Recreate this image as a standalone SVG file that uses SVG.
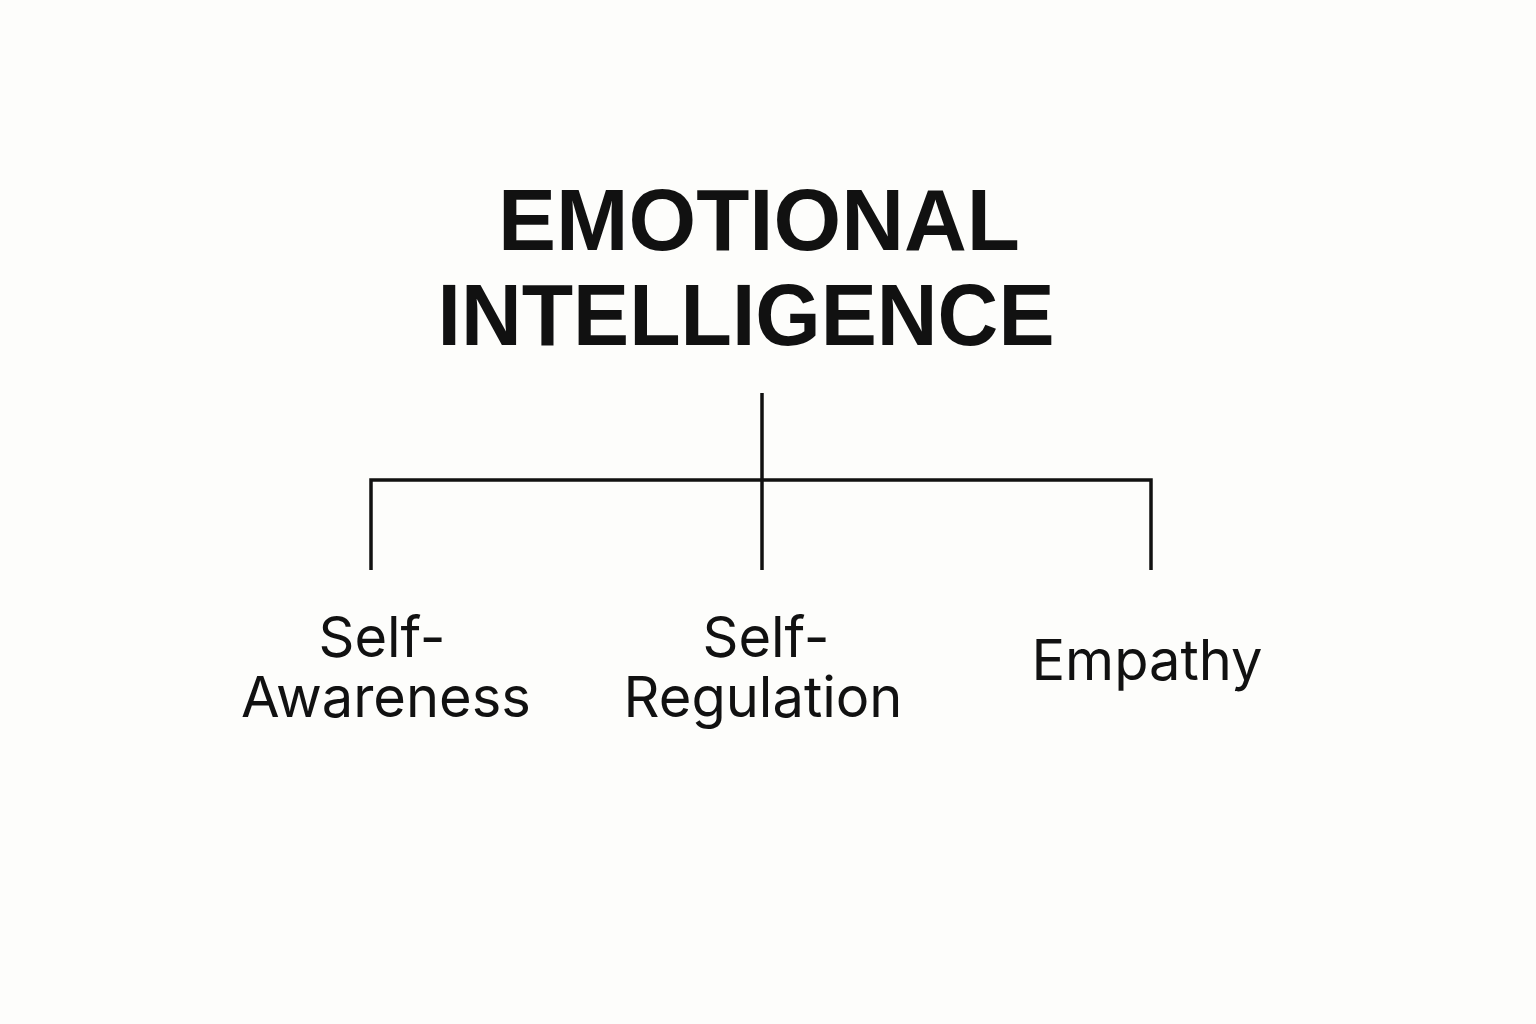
<svg xmlns="http://www.w3.org/2000/svg" width="1536" height="1024" viewBox="0 0 1536 1024">
<style>
.title{font-family:"Liberation Sans",Arial,sans-serif;font-weight:bold;font-size:87px;fill:#111;text-anchor:middle}
.lbl{font-family:Inter,"Noto Sans",sans-serif;font-size:56px;fill:#111;text-anchor:middle}
.conn{stroke:#111;stroke-width:3.5;fill:none}
</style>
<rect width="1536" height="1024" fill="#fdfdfb"/>
<g id="root">
<text class="title" x="759" y="250" textLength="522" lengthAdjust="spacingAndGlyphs">EMOTIONAL</text>
<text class="title" x="746" y="345" textLength="617" lengthAdjust="spacingAndGlyphs">INTELLIGENCE</text>
</g>
<g id="connectors">
<path class="conn" d="M762 393 V570"/>
<path class="conn" d="M371 570 V480 H1151 V570"/>
</g>
<g id="self-awareness">
<text class="lbl" x="382" y="657">Self-</text>
<text class="lbl" x="386" y="717">Awareness</text>
</g>
<g id="self-regulation">
<text class="lbl" x="766" y="657">Self-</text>
<text class="lbl" x="763" y="717">Regulation</text>
</g>
<g id="empathy">
<text class="lbl" x="1147" y="680">Empathy</text>
</g>
</svg>
